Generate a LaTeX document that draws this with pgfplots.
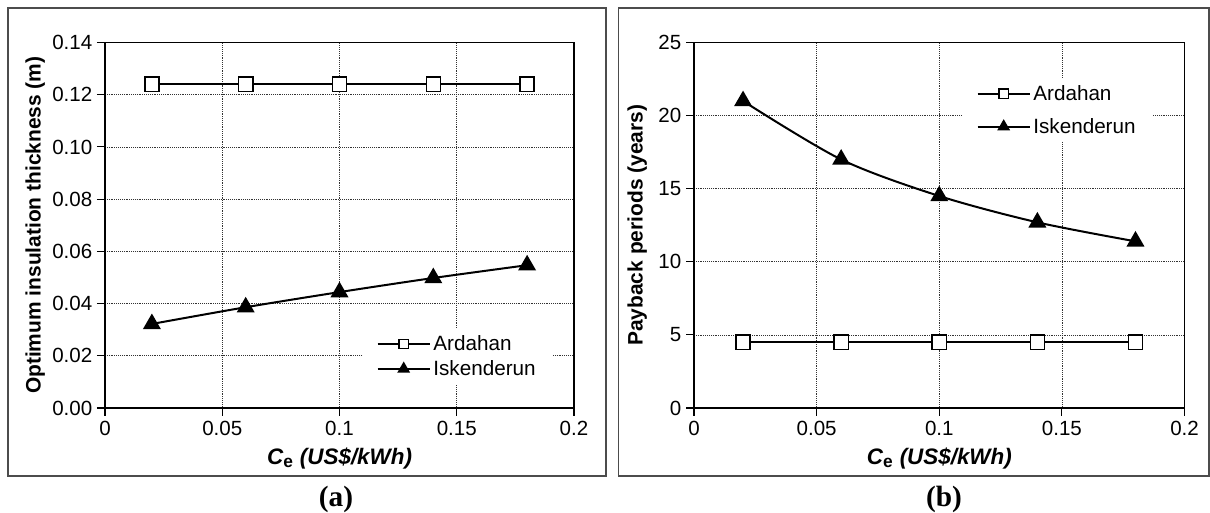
\documentclass[border=0pt]{standalone}
\usepackage{pgfplots}
\pgfplotsset{compat=1.18}
\usepackage{fontspec}
\setmainfont{Liberation Sans}
\newfontfamily\capfont{Liberation Serif}
\begin{document}
\begin{tikzpicture}
\useasboundingbox (0,0) rectangle (907.5pt,384.75pt);
\pgfplotsset{
  mystyle/.style={
    scale only axis,
    axis line style={black,line width=0.8pt},
    xmin=0,xmax=0.2,
    xtick={0,0.05,0.1,0.15,0.2},
    xticklabels={0,0.05,0.1,0.15,0.2},
    xtick pos=bottom, ytick pos=left,
    tick align=outside,
    major tick length=6pt,
    tick style={black,line width=0.8pt},
    grid=major,
    major grid style={densely dotted,black!80,line width=0.6pt},
    tick label style={font=\fontsize{15.4}{18}\selectfont},
    /pgf/number format/assume math mode=true,
    label style={font=\fontsize{15.7}{19}\selectfont\bfseries},
    xlabel={\fontsize{16.8}{19}\selectfont\textit{C}\textsubscript{\fontsize{13}{14}\selectfont e} \textit{(US\$/kWh)}},
    xlabel style={at={(axis description cs:0.5,-0.137)},anchor=center},
    legend cell align=left,
    legend style={draw=none,fill=white,font=\fontsize{15.5}{18.5}\selectfont,
      inner xsep=10pt,inner ysep=3pt},
    legend image code/.code={
      \draw[mark repeat=2,mark phase=2,##1,every mark/.append style={scale=0.65}]
        plot coordinates {(0pt,0pt) (19.5pt,0pt) (39pt,0pt)};},
  },
  ard/.style={black,line width=1.5pt,mark=square*,mark size=5.3pt,
    mark options={fill=white,line width=1.1pt,solid}},
  isk/.style={black,line width=1.5pt,smooth,mark=triangle*,mark size=6.3pt,
    mark options={fill=black,solid}},
}
% frames
\draw[black!70,line width=0.9pt] (6pt,27.75pt) rectangle (454.5pt,378.75pt);
\draw[black!70,line width=0.9pt] (463.9pt,27.75pt) rectangle (906.75pt,378.75pt);
% panel (a)
\begin{axis}[mystyle,
  at={(78.75pt,78.75pt)},anchor=south west,
  width=351.75pt,height=274.1pt,
  ymin=0,ymax=0.14,
  ytick={0,0.02,0.04,0.06,0.08,0.10,0.12,0.14},
  yticklabels={0.00,0.02,0.04,0.06,0.08,0.10,0.12,0.14},
  ylabel={Optimum insulation thickness (m)},
  ylabel style={at={(axis description cs:-0.149,0.5)},anchor=center},
  legend style={at={(axis description cs:0.7516,0.141)},anchor=center,row sep=2pt},
]
\addplot[ard] coordinates {(0.02,0.124) (0.06,0.124) (0.10,0.124) (0.14,0.124) (0.18,0.124)};
\addlegendentry{Ardahan}
\addplot[isk] coordinates {(0.02,0.0322) (0.06,0.0386) (0.10,0.0444) (0.14,0.0498) (0.18,0.0547)};
\addlegendentry{Iskenderun}
\end{axis}
% panel (b)
\begin{axis}[mystyle,
  at={(520.5pt,78.75pt)},anchor=south west,
  width=367.9pt,height=274.1pt,
  ymin=0,ymax=25,
  ytick={0,5,10,15,20,25},
  ylabel={Payback periods (years)},
  ylabel style={at={(axis description cs:-0.116,0.5)},anchor=center},
  legend style={at={(axis description cs:0.741,0.815)},anchor=center,row sep=8pt},
]
\addplot[ard] coordinates {(0.02,4.5) (0.06,4.5) (0.10,4.5) (0.14,4.5) (0.18,4.5)};
\addlegendentry{Ardahan}
\addplot[isk] coordinates {(0.02,21.0) (0.06,17.0) (0.10,14.5) (0.14,12.7) (0.18,11.4)};
\addlegendentry{Iskenderun}
\end{axis}
\node[font=\fontsize{22}{24}\capfont\bfseries] at (252pt,10.5pt) {(a)};
\node[font=\fontsize{22}{24}\capfont\bfseries] at (708pt,10.5pt) {(b)};
\end{tikzpicture}
\end{document}
